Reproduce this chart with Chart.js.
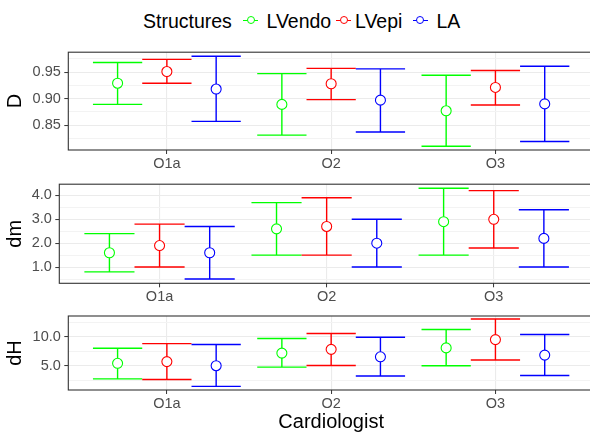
<!DOCTYPE html>
<html>
<head>
<meta charset="utf-8">
<script src="https://cdn.jsdelivr.net/npm/chart.js@4.4.1/dist/chart.umd.min.js"></script>
<style>
  html, body { margin: 0; padding: 0; background: #fff; overflow: hidden; width: 590px; height: 432px; }
  #wrap { position: relative; width: 590px; height: 432px; overflow: hidden; font-family: "Liberation Sans", Arial, sans-serif; }
  #wrap canvas { position: absolute; left: 0; }
  .lg { position: absolute; top: 11px; font-size: 19.5px; line-height: 20px; color: #000; white-space: nowrap; }
  .key { position: absolute; top: 19.5px; width: 15px; height: 1px; }
  .key i { position: absolute; left: 3.5px; top: -3.5px; width: 6px; height: 6px; border-radius: 50%; background: #fff; border: 1px solid; box-sizing: content-box; }
</style>
</head>
<body>
<div id="wrap">
  <div class="lg" style="left:143px">Structures</div>
  <div class="key" style="left:243px;background:#00ff00"><i style="border-color:#00ff00"></i></div>
  <div class="lg" style="left:266.5px">LVendo</div>
  <div class="key" style="left:336px;background:#ff0000"><i style="border-color:#ff0000"></i></div>
  <div class="lg" style="left:355px">LVepi</div>
  <div class="key" style="left:412.5px;background:#0000ff"><i style="border-color:#0000ff"></i></div>
  <div class="lg" style="left:436.5px">LA</div>
  <canvas id="chart-d" width="594" height="132" style="top:40px"></canvas>
  <canvas id="chart-dm" width="594" height="130" style="top:172px"></canvas>
  <canvas id="chart-dh" width="594" height="136" style="top:302px"></canvas>
</div>
<script>
const cardiologists = ['O1a', 'O2', 'O3'];
const structures = ['LVendo', 'LVepi', 'LA'];
const structureColors = ['#00ff00', '#ff0000', '#0000ff'];

// rows follow `structures`, columns follow `cardiologists`
const dMean  = [[0.929, 0.889, 0.877], [0.951, 0.928, 0.921], [0.918, 0.897, 0.890]];
const dLower = [[0.889, 0.831, 0.810], [0.929, 0.898, 0.888], [0.857, 0.837, 0.819]];
const dUpper = [[0.968, 0.947, 0.944], [0.974, 0.957, 0.953], [0.980, 0.956, 0.961]];
const dTicks = [0.85, 0.90, 0.95];

const dmMean  = [[1.6, 2.6, 2.9], [1.9, 2.7, 3.0], [1.6, 2.0, 2.2]];
const dmLower = [[0.8, 1.5, 1.5], [1.0, 1.5, 1.8], [0.5, 1.0, 1.0]];
const dmUpper = [[2.4, 3.7, 4.3], [2.8, 3.9, 4.2], [2.7, 3.0, 3.4]];
const dmTicks = [1, 2, 3, 4];

const dhMean  = [[5.42, 7.2, 8.1], [5.72, 7.85, 9.55], [5.0, 6.55, 6.85]];
const dhLower = [[2.7, 4.75, 5.0], [2.6, 5.05, 6.0], [1.4, 3.2, 3.3]];
const dhUpper = [[8.05, 9.75, 11.3], [8.85, 10.6, 13.15], [8.7, 9.95, 10.45]];
const dhTicks = [5, 10];

const FONT = '"Liberation Sans", Arial, sans-serif';
const DODGE = 0.3;     // offset between structures, in category units
const CAP = 0.3;       // error bar cap width, in category units

Chart.defaults.font.family = FONT;
Chart.defaults.animation = false;

// draws error bars under the points, and the panel border on top
const errorBars = {
  id: 'errorBars',
  beforeDatasetsDraw(chart) {
    const { ctx, scales: { x, y } } = chart;
    ctx.save();
    ctx.lineWidth = 1.4;
    chart.data.datasets.forEach(ds => {
      ctx.strokeStyle = ds.borderColor;
      ds.data.forEach(p => {
        const px = x.getPixelForValue(p.x);
        const half = x.getPixelForValue(p.x + CAP / 2) - px;
        const lo = y.getPixelForValue(p.lo);
        const hi = y.getPixelForValue(p.hi);
        ctx.beginPath();
        ctx.moveTo(px, lo); ctx.lineTo(px, hi);
        ctx.moveTo(px - half, lo); ctx.lineTo(px + half, lo);
        ctx.moveTo(px - half, hi); ctx.lineTo(px + half, hi);
        ctx.stroke();
      });
    });
    ctx.restore();
  },
  afterDraw(chart) {
    const { ctx, chartArea: a } = chart;
    ctx.save();
    ctx.strokeStyle = '#333333';
    ctx.lineWidth = 1.1;
    ctx.strokeRect(a.left, a.top, a.right - a.left, a.bottom - a.top);
    ctx.restore();
  }
};

function makePanel(id, cfg) {
  const { mean, lower, upper, ticks, decimals, yMin, yMax, label, left, top, xHeight, xTitle } = cfg;
  const step = ticks[1] - ticks[0];
  const minors = ticks.map(t => t - step / 2).concat([ticks[ticks.length - 1] + step / 2]);
  const allTicks = ticks.concat(minors).filter(v => v >= yMin && v <= yMax).sort((a, b) => a - b);
  const isMajor = v => ticks.includes(v);

  const datasets = structures.map((s, si) => ({
    label: s,
    data: cardiologists.map((c, ci) => ({
      x: ci + 1 + (si - 1) * DODGE,
      y: mean[si][ci],
      lo: lower[si][ci],
      hi: upper[si][ci]
    })),
    borderColor: structureColors[si],
    backgroundColor: '#ffffff',
    pointBackgroundColor: '#ffffff',
    pointBorderColor: structureColors[si],
    pointBorderWidth: 1.1,
    pointRadius: 5,
    showLine: false
  }));

  return new Chart(document.getElementById(id), {
    type: 'scatter',
    data: { datasets },
    plugins: [errorBars],
    options: {
      responsive: false,
      devicePixelRatio: 1,
      layout: { autoPadding: false, padding: { left: 0, right: 0, top: top, bottom: 0 } },
      plugins: { legend: { display: false }, tooltip: { enabled: false } },
      scales: {
        x: {
          type: 'linear',
          min: 0.4,
          max: 3.6,
          afterBuildTicks: s => { s.ticks = cardiologists.map((c, i) => ({ value: i + 1 })); },
          afterFit: s => { s.height = xHeight; },
          ticks: {
            autoSkip: false,
            maxRotation: 0,
            padding: 1,
            color: '#4d4d4d',
            font: { size: 14.5 },
            callback: v => cardiologists[v - 1]
          },
          grid: { color: '#ebebeb', lineWidth: 1.1, tickLength: 4, tickColor: '#333333', tickWidth: 1 },
          border: { display: false },
          title: xTitle
            ? { display: true, text: xTitle, color: '#000', font: { size: 20 }, padding: { top: 0, bottom: 3.5 } }
            : { display: false }
        },
        y: {
          min: yMin,
          max: yMax,
          afterBuildTicks: s => { s.ticks = allTicks.map(v => ({ value: v })); },
          afterFit: s => { s.width = left; },
          ticks: {
            autoSkip: false,
            padding: 3.5,
            color: '#4d4d4d',
            font: { size: 14.5 },
            callback: v => isMajor(v) ? v.toFixed(decimals) : ''
          },
          grid: {
            color: c => isMajor(c.tick.value) ? '#ebebeb' : '#f3f3f3',
            lineWidth: c => isMajor(c.tick.value) ? 1.1 : 1,
            tickLength: 4,
            tickColor: c => isMajor(c.tick.value) ? '#333333' : 'rgba(0,0,0,0)',
            tickWidth: 1
          },
          border: { display: false },
          title: { display: true, text: label, color: '#000', font: { size: 20 }, padding: { top: 3.7, bottom: 0 } }
        }
      }
    }
  });
}

makePanel('chart-d', {
  mean: dMean, lower: dLower, upper: dUpper, ticks: dTicks, decimals: 2,
  yMin: 0.803, yMax: 0.9875, label: 'D', left: 68.3, top: 11.7, xHeight: 22
});
makePanel('chart-dm', {
  mean: dmMean, lower: dmLower, upper: dmUpper, ticks: dmTicks, decimals: 1,
  yMin: 0.32, yMax: 4.47, label: 'dm', left: 59.3, top: 12, xHeight: 18.7
});
makePanel('chart-dh', {
  mean: dhMean, lower: dhLower, upper: dhUpper, ticks: dhTicks, decimals: 1,
  yMin: 0.77, yMax: 13.66, label: 'dH', left: 68.3, top: 14, xHeight: 48, xTitle: 'Cardiologist'
});
</script>
</body>
</html>
